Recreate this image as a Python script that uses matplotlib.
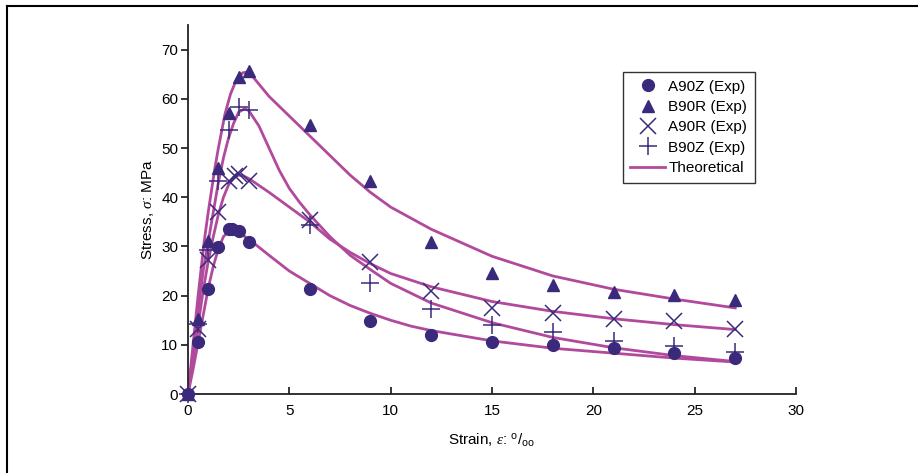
import matplotlib
matplotlib.use("Agg")
import matplotlib.pyplot as plt
from matplotlib.lines import Line2D

plt.rcParams['font.family'] = ['Liberation Sans', 'DejaVu Sans']
plt.rcParams['mathtext.fontset'] = 'custom'
plt.rcParams['mathtext.rm'] = 'Liberation Sans'
plt.rcParams['mathtext.it'] = 'Liberation Serif:italic'

# experimental points
a90z_x = [0, 0.5, 1, 1.5, 2, 2.15, 2.5, 3, 6, 9, 12, 15, 18, 21, 24, 27]
a90z_y = [0, 10.5, 21.4, 29.8, 33.5, 33.6, 33.1, 31.0, 21.4, 14.8, 12.0, 10.5, 9.9, 9.3, 8.3, 7.4]

b90r_x = [0, 0.5, 1, 1.5, 2, 2.5, 3, 6, 9, 12, 15, 18, 21, 24, 27]
b90r_y = [0, 15.2, 31.2, 45.9, 57.1, 64.4, 65.7, 54.7, 43.2, 31.0, 24.7, 22.1, 20.8, 20.1, 19.1]

a90r_x = [0, 0.5, 1, 1.5, 2, 2.3, 2.5, 3, 6, 9, 12, 15, 18, 21, 24, 27]
a90r_y = [0, 13.3, 27.2, 37.1, 43.2, 44.4, 44.8, 43.3, 35.3, 26.8, 20.9, 17.4, 16.4, 15.3, 14.9, 13.3]

b90z_x = [0, 0.5, 1, 1.5, 2, 2.5, 3, 6, 9, 12, 15, 18, 21, 24, 27]
b90z_y = [0, 14.3, 29.2, 43.2, 53.7, 58.4, 57.7, 34.3, 22.5, 17.2, 14.0, 12.6, 10.8, 9.7, 8.5]

# theoretical curves
th_b90r_x = [0, 0.25, 0.5, 0.8, 1.0, 1.33, 1.5, 1.83, 2.1, 2.4, 2.7, 3.0, 3.5, 4, 5, 6, 7, 8, 9, 10, 12, 15, 18, 21, 24, 27]
th_b90r_y = [0, 10, 20, 31, 37, 46, 50, 57, 61, 64, 65.3, 65.5, 63, 60.5, 56.5, 52.5, 48.5, 44.5, 41, 38, 33.5, 28, 24, 21.3, 19.3, 17.5]

th_b90z_x = [0, 0.25, 0.5, 0.75, 1, 1.25, 1.5, 1.75, 2, 2.25, 2.5, 2.8, 3, 3.5, 4, 4.5, 5, 5.5, 6, 7, 8, 9, 10, 12, 15, 18, 21, 24, 27]
th_b90z_y = [0, 8, 17, 25, 31, 37, 43, 48, 52, 55, 57.3, 58, 57.6, 54.5, 50, 45.5, 41.8, 39, 36.5, 32, 28.2, 25.3, 22.5, 18.5, 14.5, 11.5, 9.4, 7.8, 6.6]

th_a90r_x = [0, 0.25, 0.5, 0.75, 1, 1.25, 1.5, 1.75, 2, 2.25, 2.5, 2.75, 3, 4, 5, 6, 7, 8, 9, 10, 12, 15, 18, 21, 24, 27]
th_a90r_y = [0, 7, 14, 21, 27, 32, 36.5, 40, 42.5, 44, 44.5, 44.3, 43.8, 41, 38, 35, 31.5, 28.8, 26.5, 24.5, 21.8, 18.8, 16.8, 15.3, 14.1, 13.1]

th_a90z_x = [0, 0.25, 0.5, 0.75, 1, 1.25, 1.5, 1.75, 2, 2.25, 2.5, 3, 4, 5, 6, 7, 8, 9, 10, 11, 12, 15, 18, 21, 24, 27]
th_a90z_y = [0, 5, 10.5, 16, 21.5, 26, 29.5, 32, 33, 33.2, 32.8, 31.5, 28.2, 25, 22.5, 20, 18, 16.4, 15, 13.8, 12.9, 10.8, 9.3, 8.3, 7.3, 6.5]

mk = '#3b2a7c'
ln = '#b14a9d'

fig = plt.figure(figsize=(9.21, 4.73), dpi=100)
ax = fig.add_axes([0.2041, 0.167, 0.8643 - 0.2041, 0.947 - 0.167])

for xs, ys in [(th_b90r_x, th_b90r_y), (th_b90z_x, th_b90z_y),
               (th_a90r_x, th_a90r_y), (th_a90z_x, th_a90z_y)]:
    ax.plot(xs, ys, color=ln, lw=2, zorder=2)

ax.plot(a90z_x, a90z_y, 'o', color=mk, ms=8.5, ls='none', clip_on=False, zorder=3)
ax.plot(b90r_x, b90r_y, '^', color=mk, ms=9, ls='none', clip_on=False, zorder=3)
ax.plot(a90r_x, a90r_y, 'x', color=mk, ms=12, mew=1.1, ls='none', clip_on=False, zorder=3)
ax.plot(b90z_x, b90z_y, '+', color=mk, ms=13, mew=1.1, ls='none', clip_on=False, zorder=3)

ax.set_xlim(0, 30)
ax.set_ylim(0, 75)
ax.set_xticks([0, 5, 10, 15, 20, 25, 30])
ax.set_yticks([0, 10, 20, 30, 40, 50, 60, 70])
for s in ['top', 'right']:
    ax.spines[s].set_visible(False)
for s in ['left', 'bottom']:
    ax.spines[s].set_linewidth(1.3)
    ax.spines[s].set_color('#222222')
ax.tick_params(axis='x', direction='in', length=5, width=1.1, labelsize=11, pad=7)
ax.tick_params(axis='y', direction='out', length=5, width=1.1, labelsize=11, pad=2)

ax.set_xlabel(r'Strain, $\varepsilon$: $^{\mathrm{o}}/_{\mathrm{oo}}$', fontsize=11, labelpad=10)
ax.set_ylabel(r'Stress, $\sigma$: MPa', fontsize=11, labelpad=4)

handles = [
    Line2D([], [], marker='o', color=mk, ls='none', ms=8.5),
    Line2D([], [], marker='^', color=mk, ls='none', ms=9),
    Line2D([], [], marker='x', color=mk, ls='none', ms=12, mew=1.1),
    Line2D([], [], marker='+', color=mk, ls='none', ms=13, mew=1.1),
    Line2D([], [], color=ln, lw=2),
]
labels = ['A90Z (Exp)', 'B90R (Exp)', 'A90R (Exp)', 'B90Z (Exp)', 'Theoretical']
leg = fig.legend(handles, labels, loc='upper left', bbox_to_anchor=(0.676, 0.848),
                 fontsize=11, frameon=True, fancybox=False, edgecolor='black',
                 handlelength=2.3, handletextpad=0.2, labelspacing=0.42,
                 borderpad=0.5, borderaxespad=0)
leg.get_frame().set_linewidth(1.0)

# page frame: top and left rules
fig.add_artist(Line2D([7 / 921, 7 / 921], [0, 1 - 6 / 473], color='black', lw=1.5))
fig.add_artist(Line2D([7 / 921, 917 / 921], [1 - 6 / 473, 1 - 6 / 473], color='black', lw=1.5))

fig.savefig('out.png', dpi=100)
